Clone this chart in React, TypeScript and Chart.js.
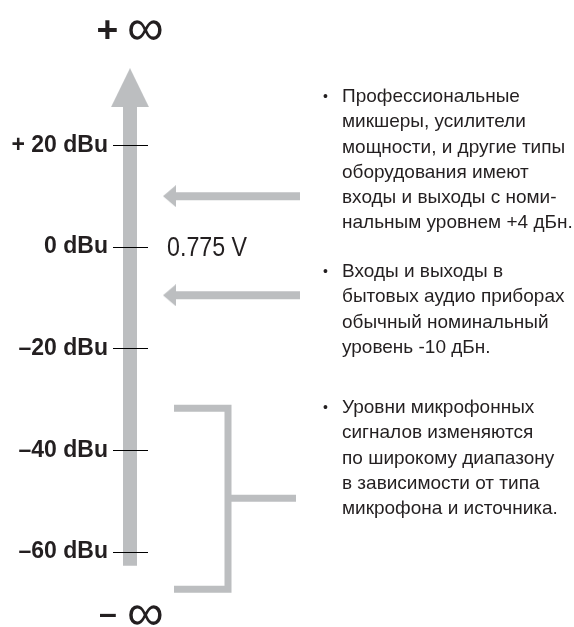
import React, { useEffect, useRef } from 'react';
import { Chart, registerables } from 'chart.js';

Chart.register(...registerables);

// ---------------- data ----------------
const TICK_DBU = [20, 0, -20, -40, -60];
const TICK_LABELS = ['+ 20 dBu', '0 dBu', '–20 dBu', '–40 dBu', '–60 dBu'];
const REFERENCE_DBU = 0;
const REFERENCE_LABEL = '0.775 V';
const ARROW_DBU = [10, -9.5]; // levels the two arrows point at
const MIC_RANGE_DBU = [-31.7, -67.3]; // bracket top / bottom
const MIC_MID_DBU = -49.4;
const SCALE_BAR_DBU = [-62.7, 28.5]; // shaft of the main scale arrow
const SCALE_HEAD_DBU = [27.5, 35.2]; // base / tip of main arrow head
const INF_DBU = [42.7, -72.3]; // +inf / -inf labels
const INF_SIGNS = ['+', '–'];
const INF_GLYPH = '∞';

const NOTE_1 = [
  'Профессиональные',
  'микшеры, усилители',
  'мощности, и другие типы',
  'оборудования имеют',
  'входы и выходы с номи-',
  'нальным уровнем +4 дБн.',
];
const NOTE_2 = ['Входы и выходы в', 'бытовых аудио приборах', 'обычный номинальный', 'уровень -10 дБн.'];
const NOTE_3 = [
  'Уровни микрофонных',
  'сигналов изменяются',
  'по широкому диапазону',
  'в зависимости от типа',
  'микрофона и источника.',
];

// ---------------- layout / style ----------------
const W = 574;
const H = 627;
const Y_MIN = -74.75;
const Y_MAX = 48.59;
const AXIS_RIGHT = 148;
const AXIS_X = 130;
const GRAY = '#bcbec0';
const INK = '#231f20';

function hasFont(name: string) {
  const c = document.createElement('canvas').getContext('2d')!;
  const s = '0 dBu mmWWii Проф';
  c.font = '40px monospace';
  const a = c.measureText(s).width;
  c.font = `40px '${name}', monospace`;
  const b = c.measureText(s).width;
  return Math.abs(a - b) > 0.5;
}

function triangle(w: number, h: number, dir: 'up' | 'left') {
  const c = document.createElement('canvas');
  c.width = w;
  c.height = h;
  const g = c.getContext('2d')!;
  g.fillStyle = GRAY;
  g.beginPath();
  if (dir === 'up') {
    g.moveTo(0, h);
    g.lineTo(w / 2, 0);
    g.lineTo(w, h);
  } else {
    g.moveTo(0, h / 2);
    g.lineTo(w, 0);
    g.lineTo(w, h);
  }
  g.closePath();
  g.fill();
  return c;
}

function drawGlyph(ctx: CanvasRenderingContext2D, text: string, weight: string, family: string, targetW: number, cx: number, cy: number) {
  ctx.font = `${weight} 100px ${family}`;
  const m0 = ctx.measureText(text);
  const w0 = m0.actualBoundingBoxRight + m0.actualBoundingBoxLeft;
  const size = (100 * targetW) / w0;
  ctx.font = `${weight} ${size}px ${family}`;
  const m = ctx.measureText(text);
  ctx.textAlign = 'left';
  ctx.textBaseline = 'alphabetic';
  const x = cx - (m.actualBoundingBoxRight - m.actualBoundingBoxLeft) / 2;
  const y = cy + (m.actualBoundingBoxAscent - m.actualBoundingBoxDescent) / 2;
  ctx.fillText(text, x, y);
}

export default function App() {
  const ref = useRef<HTMLCanvasElement>(null);

  useEffect(() => {
    const narrow = hasFont('Liberation Sans Narrow');
    const condFamily = narrow ? "'Liberation Sans Narrow', 'Liberation Sans', Arial, sans-serif" : "'Liberation Sans', Arial, sans-serif";
    const condSize = narrow ? 27 : 23;
    const textFamily = "'Liberation Sans', Arial, sans-serif";

    const pxPerDb = H / (Y_MAX - Y_MIN);
    const mainHead = triangle(38, Math.round((SCALE_HEAD_DBU[1] - SCALE_HEAD_DBU[0]) * pxPerDb), 'up');
    const sideHead = triangle(13, 22, 'left');

    const annotate = {
      id: 'annotate',
      afterDraw(chart: any) {
        const ctx: CanvasRenderingContext2D = chart.ctx;
        const ys = chart.scales.y;
        ctx.save();
        ctx.fillStyle = INK;
        // infinity labels
        INF_DBU.forEach((v, i) => {
          const cy = ys.getPixelForValue(v);
          drawGlyph(ctx, INF_SIGNS[i], 'bold', textFamily, i === 0 ? 19 : 16, AXIS_X - 22.5, cy);
          drawGlyph(ctx, INF_GLYPH, 'normal', textFamily, 33, AXIS_X + 15.5, cy + 0.5);
        });
        // reference voltage (condensed look)
        ctx.save();
        const ry = ys.getPixelForValue(REFERENCE_DBU) + 1;
        ctx.translate(167, ry);
        if (!narrow) ctx.scale(0.83, 1);
        ctx.font = `normal 28px ${condFamily}`;
        ctx.textAlign = 'left';
        ctx.textBaseline = 'middle';
        ctx.fillText(REFERENCE_LABEL, 0, 0);
        ctx.restore();
        // notes
        const notes = [
          { lines: NOTE_1, top: 97 },
          { lines: NOTE_2, top: 272 },
          { lines: NOTE_3, top: 408 },
        ];
        const lh = 25.2;
        notes.forEach((n) => {
          ctx.font = `normal 14px ${textFamily}`;
          ctx.textAlign = 'center';
          ctx.textBaseline = 'middle';
          ctx.fillText('•', 325.5, n.top);
          ctx.font = `normal 19px ${textFamily}`;
          ctx.textAlign = 'left';
          n.lines.forEach((t, i) => ctx.fillText(t, 342, n.top + i * lh));
        });
        ctx.restore();
      },
    };

    const base = { pointRadius: 0, clip: false as const, borderCapStyle: 'butt' as const, borderJoinStyle: 'miter' as const, tension: 0 };

    const datasets: any[] = [
      {
        ...base,
        type: 'line',
        data: SCALE_BAR_DBU.map((v) => ({ x: AXIS_X, y: v })),
        borderColor: GRAY,
        borderWidth: 14,
      },
      {
        type: 'line',
        showLine: false,
        clip: false,
        data: [{ x: AXIS_X, y: (SCALE_HEAD_DBU[0] + SCALE_HEAD_DBU[1]) / 2 }],
        pointStyle: mainHead,
        pointRadius: 30,
        pointBorderWidth: 0,
      },
      ...ARROW_DBU.map((v) => ({
        ...base,
        type: 'line',
        data: [
          { x: 172, y: v },
          { x: 300, y: v },
        ],
        borderColor: GRAY,
        borderWidth: 8,
      })),
      {
        type: 'line',
        showLine: false,
        clip: false,
        data: ARROW_DBU.map((v) => ({ x: 169.5, y: v })),
        pointStyle: sideHead,
        pointRadius: 12,
        pointBorderWidth: 0,
      },
      {
        ...base,
        type: 'line',
        data: [
          { x: 174, y: MIC_RANGE_DBU[0] },
          { x: 228, y: MIC_RANGE_DBU[0] },
          { x: 228, y: MIC_RANGE_DBU[1] },
          { x: 174, y: MIC_RANGE_DBU[1] },
        ],
        borderColor: GRAY,
        borderWidth: 7,
      },
      {
        ...base,
        type: 'line',
        data: [
          { x: 228, y: MIC_MID_DBU },
          { x: 296, y: MIC_MID_DBU },
        ],
        borderColor: GRAY,
        borderWidth: 7,
      },
    ];

    const chart = new Chart(ref.current!, {
      type: 'line',
      data: { datasets },
      plugins: [annotate],
      options: {
        animation: false,
        responsive: false,
        events: [],
        layout: { padding: 0, autoPadding: false },
        plugins: { legend: { display: false }, tooltip: { enabled: false }, title: { display: false } },
        scales: {
          x: { type: 'linear', display: false, min: AXIS_RIGHT, max: W },
          y: {
            type: 'linear',
            position: 'left',
            min: Y_MIN,
            max: Y_MAX,
            afterFit: (s: any) => {
              s.width = AXIS_RIGHT;
              s.paddingTop = 0;
              s.paddingBottom = 0;
            },
            afterBuildTicks: (s: any) => {
              s.ticks = TICK_DBU.map((v) => ({ value: v }));
            },
            border: { display: false },
            grid: { drawOnChartArea: false, drawTicks: true, tickLength: 35, color: '#000', lineWidth: 1, z: 1 },
            ticks: {
              autoSkip: false,
              padding: 5,
              color: INK,
              font: { family: condFamily, size: condSize, weight: 'bold' },
              callback: (v: any) => TICK_LABELS[TICK_DBU.indexOf(Number(v))] ?? '',
            },
          },
        },
      } as any,
    });
    return () => chart.destroy();
  }, []);

  return (
    <div style={{ position: 'absolute', left: 0, top: 0, width: W, height: H, background: '#fff' }}>
      <canvas ref={ref} width={W} height={H} style={{ width: W, height: H, display: 'block' }} />
    </div>
  );
}
